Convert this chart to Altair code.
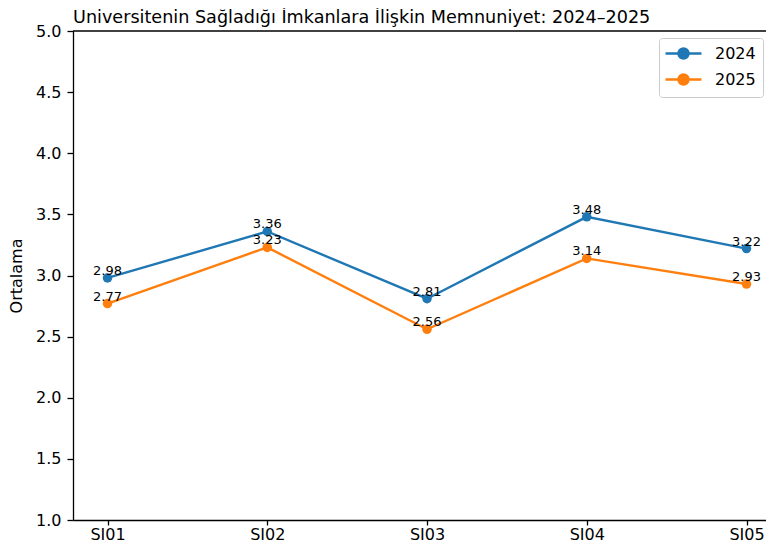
import altair as alt
import pandas as pd

categories = ["SI01", "SI02", "SI03", "SI04", "SI05"]
vals_2024 = [2.98, 3.36, 2.81, 3.48, 3.22]
vals_2025 = [2.77, 3.23, 2.56, 3.14, 2.93]
years = ["2024", "2025"]
colors = ["#1f77b4", "#ff7f0e"]
y_ticks = [1.0, 1.5, 2.0, 2.5, 3.0, 3.5, 4.0, 4.5, 5.0]

rows = []
for year, vals in zip(years, [vals_2024, vals_2025]):
    for i, (c, v) in enumerate(zip(categories, vals)):
        rows.append({"idx": i, "cat": c, "year": year, "val": v, "label": f"{v:.2f}"})
df = pd.DataFrame(rows)

label_expr = "[" + ",".join(f"'{c}'" for c in categories) + "][datum.value]"

FONT = "DejaVu Sans"
W, H = 693, 489
X_DOMAIN = [-0.216, 4.122]
legend_symbol = "M0.7,0 A0.7,0.7 0 1,1 -0.7,0 A0.7,0.7 0 1,1 0.7,0 Z M-2.5,0 L2.5,0"

x_scale = alt.Scale(domain=X_DOMAIN, nice=False, zero=False)
y_scale = alt.Scale(domain=[1, 5], nice=False, zero=False)

x_bottom = alt.X(
    "idx:Q", scale=x_scale,
    axis=alt.Axis(values=list(range(len(categories))), labelExpr=label_expr,
                  title=None, grid=False, tickSize=5, labelPadding=1,
                  labelFontSize=16, labelColor="#000000", tickColor="#000000",
                  domainColor="#000000", labelFont=FONT),
)
y_enc = alt.Y(
    "val:Q", scale=y_scale,
    axis=alt.Axis(values=y_ticks, format=".1f", title="Ortalama", grid=False,
                  tickSize=6, labelPadding=6, labelFontSize=16, titleFontSize=16,
                  titleFontWeight="normal", titleFont=FONT, labelFont=FONT,
                  titlePadding=11, labelColor="#000000", titleColor="#000000",
                  tickColor="#000000", domainColor="#000000"),
)
color_enc = alt.Color(
    "year:N",
    scale=alt.Scale(domain=years, range=colors),
    legend=alt.Legend(title=None, orient="none", legendX=586, legendY=7,
                      symbolType=legend_symbol, symbolSize=207, symbolOffset=9,
                      symbolStrokeWidth=2.4, labelFontSize=16, labelFont=FONT,
                      labelColor="#000000", labelOffset=23, rowPadding=5,
                      padding=7, strokeColor="#cccccc", cornerRadius=3,
                      fillColor="#ffffff"),
)

base = alt.Chart(df)

lines = base.mark_line(strokeWidth=2.4).encode(x=x_bottom, y=y_enc, color=color_enc)
points = base.mark_point(filled=True, size=90, opacity=1).encode(
    x=alt.X("idx:Q", scale=x_scale), y=alt.Y("val:Q", scale=y_scale),
    color=alt.Color("year:N"))
texts = base.mark_text(baseline="bottom", align="center", fontSize=13, font=FONT,
                       color="#000000").encode(
    x=alt.X("idx:Q", scale=x_scale), y=alt.Y("val:Q", scale=y_scale),
    text="label:N",
)
top_spine = alt.Chart(pd.DataFrame({"top": [5.0]})).mark_rule(
    color="#000000", strokeWidth=1.3).encode(
    y=alt.Y("top:Q", scale=y_scale), x=alt.value(0), x2=alt.value(W))

chart = alt.layer(lines, points, texts, top_spine).properties(
    width=W,
    height=H,
    autosize=alt.AutoSizeParams(type="none"),
    padding={"left": 65, "top": 23, "right": 0, "bottom": 23},
    title=alt.TitleParams(
        "Üniversitenin Sağladığı İmkanlara İlişkin Memnuniyet: 2024–2025",
        anchor="start", frame="group", fontSize=17.6, font=FONT,
        fontWeight="normal", color="#000000", offset=0, dy=18,
        baseline="alphabetic"),
).configure_view(stroke=None).configure_axis(domainWidth=1.3, tickWidth=1.3)

chart.save("out.html", embed_options={"renderer": "svg", "actions": False})
